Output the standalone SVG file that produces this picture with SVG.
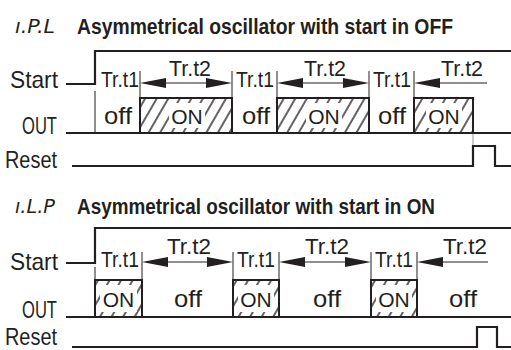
<svg xmlns="http://www.w3.org/2000/svg" width="511" height="350" viewBox="0 0 511 350">
<style>
text{font-family:"Liberation Sans",Arial,sans-serif;fill:#231f20}
.ttl{font-size:22px;font-weight:bold}
.ico{font-family:"DejaVu Sans",sans-serif;font-size:19px;font-style:italic;font-weight:200}
.lbl{font-size:24px}
.t{font-size:22px}
.v{font-size:24px;text-anchor:middle}
.on{font-size:21px;text-anchor:middle}
.sig{fill:none;stroke:#231f20;stroke-width:2.2}
.thin{fill:none;stroke:#231f20;stroke-width:1}
.box{fill:url(#hatch);stroke:#231f20;stroke-width:2}
.wm{fill:#fff}
.arr{fill:none;stroke:#231f20;stroke-width:1.2}
.hd{fill:#231f20}
</style>
<defs>
<pattern id="hatch" patternUnits="userSpaceOnUse" width="10" height="10" patternTransform="rotate(30)">
<rect width="10" height="10" fill="#fff"/>
<line x1="5" y1="0" x2="5" y2="10" stroke="#231f20" stroke-width="1.4"/>
</pattern>
</defs>

<g id="top-title">
<text class="ico" x="15" y="33" textLength="40" lengthAdjust="spacingAndGlyphs">ı.P.L</text>
<text class="ttl" x="77" y="34" textLength="376" lengthAdjust="spacingAndGlyphs">Asymmetrical oscillator with start in OFF</text>
</g>
<g id="top-labels">
<text class="lbl" x="10" y="88" textLength="48" lengthAdjust="spacingAndGlyphs">Start</text>
<text class="lbl" x="22" y="134" textLength="35" lengthAdjust="spacingAndGlyphs">OUT</text>
<text class="lbl" x="5" y="168" textLength="52" lengthAdjust="spacingAndGlyphs">Reset</text>
</g>
<g id="top-signals">
<path class="sig" d="M66,84 H95 V51 H511"/>
<path class="sig" d="M66,133 H511"/>
<path class="sig" d="M72,166 H473 V146 H495 V166 H511"/>
<line x1="473" y1="134" x2="473" y2="145" stroke="#999" stroke-width="1"/>
</g>
<g id="top-boxes">
<rect class="box" x="140" y="98" width="92" height="35"/>
<rect class="wm" x="169" y="103" width="36" height="25"/>
<rect class="box" x="277" y="98" width="92" height="35"/>
<rect class="wm" x="306" y="103" width="36" height="25"/>
<rect class="box" x="414" y="98" width="59" height="35"/>
<rect class="wm" x="426" y="103" width="36" height="25"/>
<text class="on" x="187" y="124">ON</text>
<text class="on" x="324" y="124">ON</text>
<text class="on" x="444" y="124">ON</text>
<text class="v" x="118" y="124" textLength="28" lengthAdjust="spacingAndGlyphs">off</text>
<text class="v" x="256" y="124" textLength="28" lengthAdjust="spacingAndGlyphs">off</text>
<text class="v" x="392" y="124" textLength="28" lengthAdjust="spacingAndGlyphs">off</text>
</g>
<g id="top-timing">
<path class="thin" d="M95,91 V133 M140,71 V98 M232,71 V98 M277,71 V98 M369,71 V98 M414,71 V98"/>
<text class="t" x="101" y="87" textLength="38" lengthAdjust="spacingAndGlyphs">Tr.t1</text>
<text class="t" x="236" y="87" textLength="38" lengthAdjust="spacingAndGlyphs">Tr.t1</text>
<text class="t" x="373" y="87" textLength="38" lengthAdjust="spacingAndGlyphs">Tr.t1</text>
<text class="t" x="169" y="76" textLength="42" lengthAdjust="spacingAndGlyphs">Tr.t2</text>
<text class="t" x="304" y="76" textLength="42" lengthAdjust="spacingAndGlyphs">Tr.t2</text>
<text class="t" x="441" y="76" textLength="42" lengthAdjust="spacingAndGlyphs">Tr.t2</text>
</g>
<g id="top-arrows">
<path class="arr" d="M160,83 H212 M297,83 H349 M434,83 H487"/>
<path class="hd" d="M140,83 L166,78 L166,88 Z M232,83 L206,78 L206,88 Z M277,83 L303,78 L303,88 Z M369,83 L343,78 L343,88 Z M414,83 L440,78 L440,88 Z"/>
</g>

<g id="bottom-title">
<text class="ico" x="15" y="213" textLength="40" lengthAdjust="spacingAndGlyphs">ı.L.P</text>
<text class="ttl" x="77" y="214" textLength="358" lengthAdjust="spacingAndGlyphs">Asymmetrical oscillator with start in ON</text>
</g>
<g id="bottom-labels">
<text class="lbl" x="10" y="270" textLength="48" lengthAdjust="spacingAndGlyphs">Start</text>
<text class="lbl" x="22" y="318" textLength="35" lengthAdjust="spacingAndGlyphs">OUT</text>
<text class="lbl" x="5" y="345" textLength="52" lengthAdjust="spacingAndGlyphs">Reset</text>
</g>
<g id="bottom-signals">
<path class="sig" d="M66,263 H95 V228 H511"/>
<path class="sig" d="M66,317 H511"/>
<path class="sig" d="M72,347 H477 V327 H497 V347 H511"/>
</g>
<g id="bottom-boxes">
<rect class="box" x="95" y="280" width="47" height="37"/>
<rect class="wm" x="100" y="285" width="37" height="27"/>
<rect class="box" x="233" y="280" width="46" height="37"/>
<rect class="wm" x="238" y="285" width="36" height="27"/>
<rect class="box" x="371" y="280" width="46" height="37"/>
<rect class="wm" x="376" y="285" width="36" height="27"/>
<text class="on" x="118.5" y="307">ON</text>
<text class="on" x="256" y="307">ON</text>
<text class="on" x="394" y="307">ON</text>
<text class="v" x="188" y="307" textLength="28" lengthAdjust="spacingAndGlyphs">off</text>
<text class="v" x="327" y="307" textLength="28" lengthAdjust="spacingAndGlyphs">off</text>
<text class="v" x="463" y="307" textLength="28" lengthAdjust="spacingAndGlyphs">off</text>
</g>
<g id="bottom-timing">
<path class="thin" d="M95,267 V280 M142,252 V280 M233,252 V280 M279,252 V280 M371,252 V280 M417,252 V280"/>
<text class="t" x="101" y="267" textLength="38" lengthAdjust="spacingAndGlyphs">Tr.t1</text>
<text class="t" x="237" y="267" textLength="38" lengthAdjust="spacingAndGlyphs">Tr.t1</text>
<text class="t" x="375" y="267" textLength="38" lengthAdjust="spacingAndGlyphs">Tr.t1</text>
<text class="t" x="167" y="254" textLength="44" lengthAdjust="spacingAndGlyphs">Tr.t2</text>
<text class="t" x="305" y="254" textLength="44" lengthAdjust="spacingAndGlyphs">Tr.t2</text>
<text class="t" x="443" y="254" textLength="44" lengthAdjust="spacingAndGlyphs">Tr.t2</text>
</g>
<g id="bottom-arrows">
<path class="arr" d="M162,262 H213 M299,262 H351 M437,262 H488"/>
<path class="hd" d="M142,262 L168,257 L168,267 Z M233,262 L207,257 L207,267 Z M279,262 L305,257 L305,267 Z M371,262 L345,257 L345,267 Z M417,262 L443,257 L443,267 Z"/>
</g>
</svg>
